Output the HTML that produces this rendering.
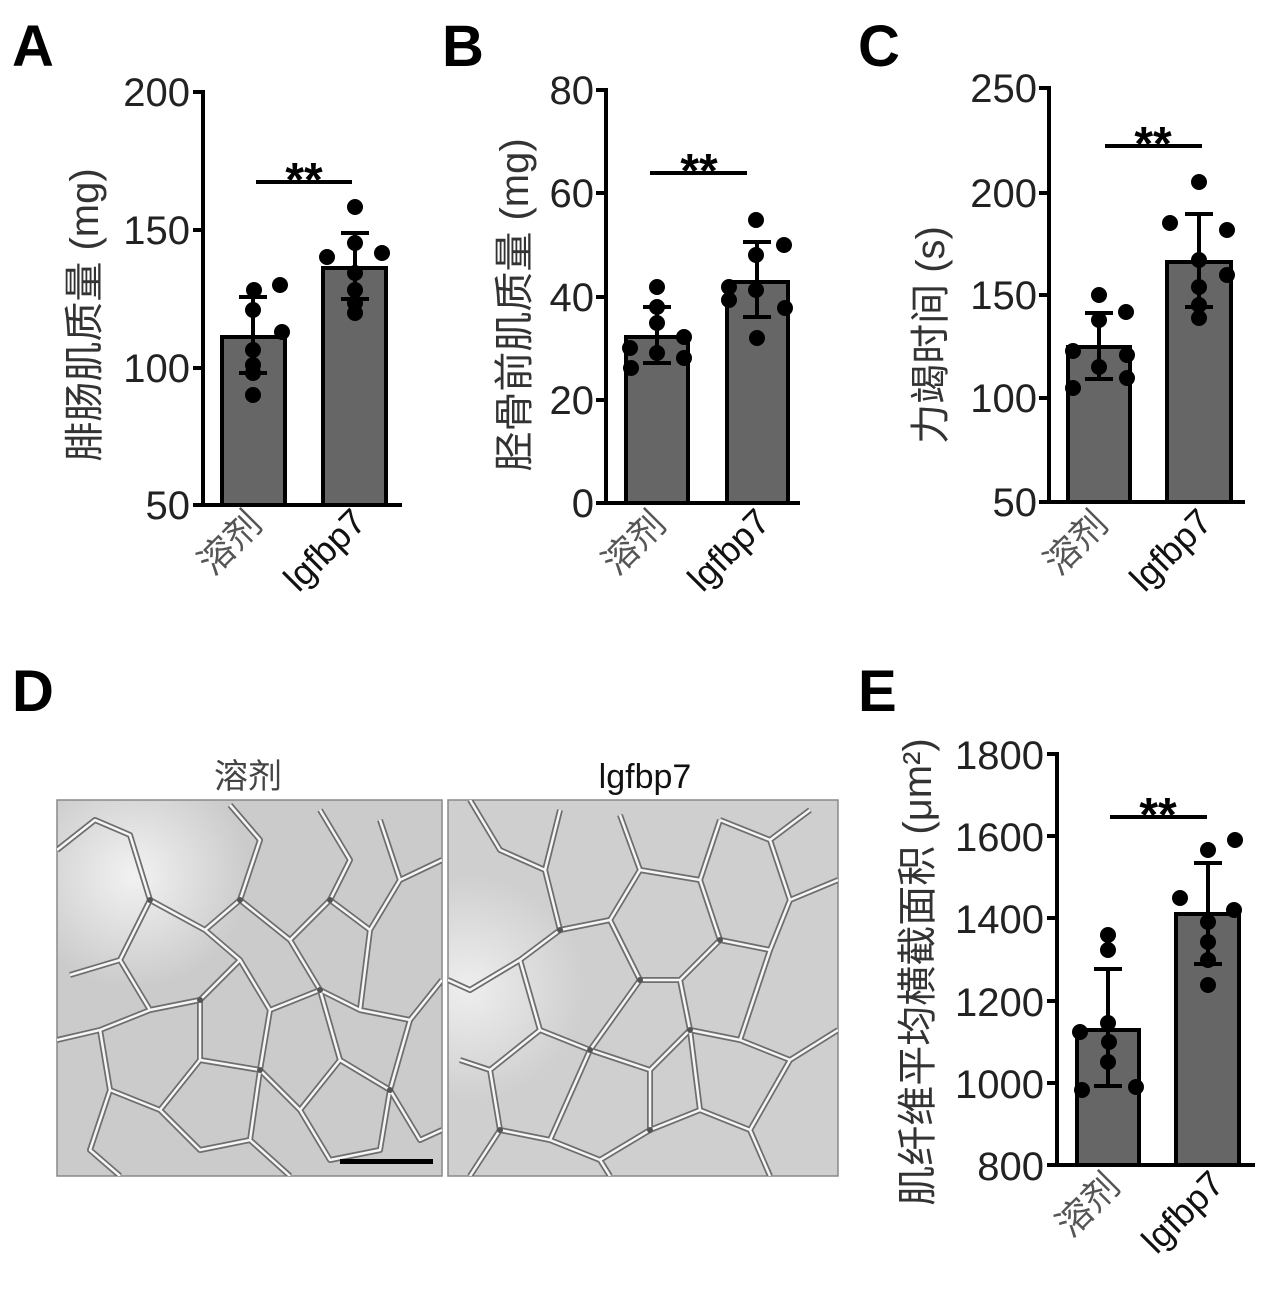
<!DOCTYPE html>
<html><head><meta charset="utf-8"><style>
html,body{margin:0;padding:0;background:#fff;}
svg{display:block;}
text{font-family:"Liberation Sans","Noto Sans CJK SC",sans-serif;}
.t{font-size:40px;fill:#222;text-anchor:end;}
.lab{font-size:58px;font-weight:bold;fill:#000;}
.yl{font-size:40px;fill:#333;text-anchor:middle;}
.xl{font-size:36px;fill:#111;text-anchor:end;}
.xc{font-size:36px;fill:#555;text-anchor:end;}
.bar{fill:#666;stroke:#000;stroke-width:4;}
.ax{stroke:#000;stroke-width:4;fill:none;}
.er{stroke:#000;stroke-width:4;fill:none;}
.st{font-size:48px;font-weight:bold;text-anchor:middle;fill:#000;}
</style></head><body>
<svg width="1274" height="1293" viewBox="0 0 1274 1293" xmlns="http://www.w3.org/2000/svg">
<text class="lab" x="12" y="66">A</text>
<text class="lab" x="442" y="66">B</text>
<text class="lab" x="858" y="66">C</text>
<text class="lab" x="12" y="711">D</text>
<text class="lab" x="858" y="711">E</text>

<!-- ===== A ===== -->
<path class="ax" d="M203 90 V505 M203 505 H402 M193 92 H203 M193 230 H203 M193 368 H203 M193 505 H203"/>
<text class="t" x="190" y="106">200</text>
<text class="t" x="190" y="244">150</text>
<text class="t" x="190" y="382">100</text>
<text class="t" x="190" y="519">50</text>
<text class="yl" transform="translate(98,315) rotate(-90)">腓肠肌质量 (mg)</text>
<rect class="bar" x="222" y="337" width="63" height="168"/>
<rect class="bar" x="323" y="268" width="63" height="237"/>
<path class="er" d="M253 297 V373 M239 297 H267 M239 373 H267 M355 233 V299 M341 233 H369 M341 299 H369"/>
<path class="er" d="M256 182 H352"/>
<text class="st" x="304" y="196">**</text>
<g fill="#000">
<circle cx="254" cy="290" r="8"/><circle cx="280" cy="285" r="8"/><circle cx="253" cy="310" r="8"/><circle cx="282" cy="332" r="8"/><circle cx="253" cy="350" r="8"/><circle cx="253" cy="365" r="8"/><circle cx="253" cy="373" r="8"/><circle cx="253" cy="395" r="8"/>
<circle cx="355" cy="207" r="8"/><circle cx="355" cy="243" r="8"/><circle cx="327" cy="257" r="8"/><circle cx="382" cy="253" r="8"/><circle cx="355" cy="273" r="8"/><circle cx="355" cy="290" r="8"/><circle cx="355" cy="303" r="8"/><circle cx="355" cy="313" r="8"/>
</g>
<text class="xc" transform="translate(264,526) rotate(-45)">溶剂</text>
<text class="xl" transform="translate(368,524) rotate(-45)">lgfbp7</text>

<!-- ===== B ===== -->
<path class="ax" d="M606 88 V503 M606 503 H800 M596 90 H606 M596 193 H606 M596 297 H606 M596 400 H606 M596 503 H606"/>
<text class="t" x="594" y="104">80</text>
<text class="t" x="594" y="207">60</text>
<text class="t" x="594" y="311">40</text>
<text class="t" x="594" y="414">20</text>
<text class="t" x="594" y="517">0</text>
<text class="yl" transform="translate(528,305) rotate(-90)">胫骨前肌质量 (mg)</text>
<rect class="bar" x="626" y="337" width="62" height="166"/>
<rect class="bar" x="727" y="282" width="61" height="221"/>
<path class="er" d="M657 307 V363 M643 307 H671 M643 363 H671 M757 242 V317 M743 242 H771 M743 317 H771"/>
<path class="er" d="M650 173 H747"/>
<text class="st" x="699" y="187">**</text>
<g fill="#000">
<circle cx="657" cy="287" r="8"/><circle cx="657" cy="307" r="8"/><circle cx="657" cy="323" r="8"/><circle cx="630" cy="348" r="8"/><circle cx="684" cy="337" r="8"/><circle cx="657" cy="353" r="8"/><circle cx="684" cy="358" r="8"/><circle cx="631" cy="368" r="8"/>
<circle cx="756" cy="220" r="8"/><circle cx="784" cy="245" r="8"/><circle cx="756" cy="255" r="8"/><circle cx="729" cy="287" r="8"/><circle cx="756" cy="290" r="8"/><circle cx="729" cy="300" r="8"/><circle cx="785" cy="308" r="8"/><circle cx="757" cy="338" r="8"/>
</g>
<text class="xc" transform="translate(668,526) rotate(-45)">溶剂</text>
<text class="xl" transform="translate(772,524) rotate(-45)">lgfbp7</text>

<!-- ===== C ===== -->
<path class="ax" d="M1049 86 V502 M1049 502 H1245 M1039 88 H1049 M1039 193 H1049 M1039 295 H1049 M1039 398 H1049 M1039 502 H1049"/>
<text class="t" x="1037" y="102">250</text>
<text class="t" x="1037" y="207">200</text>
<text class="t" x="1037" y="309">150</text>
<text class="t" x="1037" y="412">100</text>
<text class="t" x="1037" y="516">50</text>
<text class="yl" transform="translate(944,335) rotate(-90)">力竭时间 (s)</text>
<rect class="bar" x="1068" y="347" width="62" height="155"/>
<rect class="bar" x="1167" y="262" width="64" height="240"/>
<path class="er" d="M1099 313 V379 M1085 313 H1113 M1085 379 H1113 M1199 214 V307 M1185 214 H1213 M1185 307 H1213"/>
<path class="er" d="M1105 146 H1202"/>
<text class="st" x="1153" y="160">**</text>
<g fill="#000">
<circle cx="1099" cy="295" r="8"/><circle cx="1126" cy="312" r="8"/><circle cx="1099" cy="320" r="8"/><circle cx="1073" cy="351" r="8"/><circle cx="1127" cy="355" r="8"/><circle cx="1099" cy="367" r="8"/><circle cx="1127" cy="378" r="8"/><circle cx="1073" cy="388" r="8"/>
<circle cx="1199" cy="182" r="8"/><circle cx="1170" cy="223" r="8"/><circle cx="1227" cy="230" r="8"/><circle cx="1199" cy="260" r="8"/><circle cx="1227" cy="275" r="8"/><circle cx="1199" cy="287" r="8"/><circle cx="1199" cy="305" r="8"/><circle cx="1199" cy="318" r="8"/>
</g>
<text class="xc" transform="translate(1110,526) rotate(-45)">溶剂</text>
<text class="xl" transform="translate(1214,524) rotate(-45)">lgfbp7</text>

<!-- ===== D ===== -->
<text x="248" y="788" style="font-size:34px;fill:#444;text-anchor:middle;">溶剂</text>
<text x="645" y="788" style="font-size:34px;fill:#111;text-anchor:middle;">lgfbp7</text>
<defs>
<radialGradient id="g1" cx="0.2" cy="0.2" r="0.3"><stop offset="0" stop-color="#f2f2f2"/><stop offset="1" stop-color="#cbcbcb"/></radialGradient>
<radialGradient id="g2" cx="0.05" cy="0.5" r="0.3"><stop offset="0" stop-color="#eeeeee"/><stop offset="1" stop-color="#cfcfcf"/></radialGradient>
<clipPath id="c1"><rect x="57" y="800" width="385" height="376"/></clipPath>
<clipPath id="c2"><rect x="448" y="800" width="390" height="376"/></clipPath>
</defs>
<rect x="57" y="800" width="385" height="376" fill="url(#g1)" stroke="#888" stroke-width="1.5"/>
<rect x="448" y="800" width="390" height="376" fill="url(#g2)" stroke="#888" stroke-width="1.5"/>
<g clip-path="url(#c1)" fill="none" stroke-linejoin="round">
<g stroke="#6e6e6e" stroke-width="6">
<path id="p1" d="M57 850 L95 820 L130 835 L150 900 L120 960 L70 975 M150 900 L205 930 L240 900 L260 840 L230 805 M240 900 L290 940 L330 900 L350 860 L320 810 M330 900 L370 930 L400 880 L380 820 M400 880 L442 860 M120 960 L150 1010 L200 1000 L240 960 L205 930 M240 960 L270 1010 L320 990 L290 940 M320 990 L360 1010 L370 930 M360 1010 L410 1020 L442 980 M57 1040 L100 1030 L150 1010 M100 1030 L110 1090 L160 1110 L200 1060 L200 1000 M200 1060 L260 1070 L270 1010 M260 1070 L300 1110 L340 1060 L320 990 M340 1060 L390 1090 L410 1020 M390 1090 L420 1140 L442 1130 M110 1090 L90 1150 L120 1176 M160 1110 L200 1150 L250 1140 L260 1070 M250 1140 L290 1176 M300 1110 L330 1160 L380 1150 L390 1090"/>
</g>
<g stroke="#f6f6f6" stroke-width="2.5">
<path d="M57 850 L95 820 L130 835 L150 900 L120 960 L70 975 M150 900 L205 930 L240 900 L260 840 L230 805 M240 900 L290 940 L330 900 L350 860 L320 810 M330 900 L370 930 L400 880 L380 820 M400 880 L442 860 M120 960 L150 1010 L200 1000 L240 960 L205 930 M240 960 L270 1010 L320 990 L290 940 M320 990 L360 1010 L370 930 M360 1010 L410 1020 L442 980 M57 1040 L100 1030 L150 1010 M100 1030 L110 1090 L160 1110 L200 1060 L200 1000 M200 1060 L260 1070 L270 1010 M260 1070 L300 1110 L340 1060 L320 990 M340 1060 L390 1090 L410 1020 M390 1090 L420 1140 L442 1130 M110 1090 L90 1150 L120 1176 M160 1110 L200 1150 L250 1140 L260 1070 M250 1140 L290 1176 M300 1110 L330 1160 L380 1150 L390 1090"/>
</g>
<g fill="#555" stroke="none"><circle cx="150" cy="900" r="3"/><circle cx="240" cy="900" r="3"/><circle cx="330" cy="900" r="3"/><circle cx="200" cy="1000" r="3"/><circle cx="320" cy="990" r="3"/><circle cx="260" cy="1070" r="3"/><circle cx="390" cy="1090" r="3"/></g>
</g>
<g clip-path="url(#c2)" fill="none" stroke-linejoin="round">
<g stroke="#6e6e6e" stroke-width="6">
<path d="M470 800 L500 850 L545 870 L560 810 M545 870 L560 930 L520 960 L470 990 L448 980 M560 930 L610 920 L640 870 L620 815 M640 870 L700 880 L720 820 M700 880 L720 940 L680 980 L640 980 L610 920 M720 940 L770 950 L790 900 L770 840 L720 820 M790 900 L838 880 M770 840 L810 810 M520 960 L540 1030 L590 1050 L640 980 M590 1050 L650 1070 L690 1030 L680 980 M690 1030 L740 1040 L770 950 M740 1040 L790 1060 L838 1030 M540 1030 L490 1070 L460 1060 M490 1070 L500 1130 L550 1140 L590 1050 M550 1140 L600 1160 L650 1130 L650 1070 M650 1130 L700 1110 L690 1030 M700 1110 L750 1130 L790 1060 M750 1130 L770 1176 M600 1160 L610 1176 M500 1130 L470 1176"/>
</g>
<g stroke="#f6f6f6" stroke-width="2.5">
<path d="M470 800 L500 850 L545 870 L560 810 M545 870 L560 930 L520 960 L470 990 L448 980 M560 930 L610 920 L640 870 L620 815 M640 870 L700 880 L720 820 M700 880 L720 940 L680 980 L640 980 L610 920 M720 940 L770 950 L790 900 L770 840 L720 820 M790 900 L838 880 M770 840 L810 810 M520 960 L540 1030 L590 1050 L640 980 M590 1050 L650 1070 L690 1030 L680 980 M690 1030 L740 1040 L770 950 M740 1040 L790 1060 L838 1030 M540 1030 L490 1070 L460 1060 M490 1070 L500 1130 L550 1140 L590 1050 M550 1140 L600 1160 L650 1130 L650 1070 M650 1130 L700 1110 L690 1030 M700 1110 L750 1130 L790 1060 M750 1130 L770 1176 M600 1160 L610 1176 M500 1130 L470 1176"/>
</g>
<g fill="#555" stroke="none"><circle cx="560" cy="930" r="3"/><circle cx="640" cy="980" r="3"/><circle cx="720" cy="940" r="3"/><circle cx="590" cy="1050" r="3"/><circle cx="690" cy="1030" r="3"/><circle cx="650" cy="1130" r="3"/><circle cx="500" cy="1130" r="3"/></g>
</g>
<rect x="340" y="1159" width="93" height="5" fill="#000"/>

<!-- ===== E ===== -->
<path class="ax" d="M1057 752 V1165 M1057 1165 H1255 M1047 754 H1057 M1047 836 H1057 M1047 918 H1057 M1047 1001 H1057 M1047 1083 H1057 M1047 1165 H1057"/>
<text class="t" x="1044" y="769">1800</text>
<text class="t" x="1044" y="851">1600</text>
<text class="t" x="1044" y="933">1400</text>
<text class="t" x="1044" y="1016">1200</text>
<text class="t" x="1044" y="1098">1000</text>
<text class="t" x="1044" y="1180">800</text>
<text class="yl" transform="translate(931,972) rotate(-90)">肌纤维平均横截面积 (μm²)</text>
<rect class="bar" x="1077" y="1030" width="62" height="135"/>
<rect class="bar" x="1176" y="914" width="63" height="251"/>
<path class="er" d="M1108 969 V1086 M1094 969 H1122 M1094 1086 H1122 M1208 863 V964 M1194 863 H1222 M1194 964 H1222"/>
<path class="er" d="M1110 817 H1207"/>
<text class="st" x="1158" y="831">**</text>
<g fill="#000">
<circle cx="1108" cy="935" r="8"/><circle cx="1108" cy="950" r="8"/><circle cx="1080" cy="1032" r="8"/><circle cx="1108" cy="1023" r="8"/><circle cx="1109" cy="1042" r="8"/><circle cx="1108" cy="1062" r="8"/><circle cx="1082" cy="1090" r="8"/><circle cx="1136" cy="1087" r="8"/>
<circle cx="1208" cy="850" r="8"/><circle cx="1235" cy="840" r="8"/><circle cx="1180" cy="898" r="8"/><circle cx="1234" cy="910" r="8"/><circle cx="1208" cy="922" r="8"/><circle cx="1208" cy="942" r="8"/><circle cx="1208" cy="960" r="8"/><circle cx="1208" cy="985" r="8"/>
</g>
<text class="xc" transform="translate(1122,1188) rotate(-45)">溶剂</text>
<text class="xl" transform="translate(1226,1186) rotate(-45)">lgfbp7</text>
</svg>
</body></html>
